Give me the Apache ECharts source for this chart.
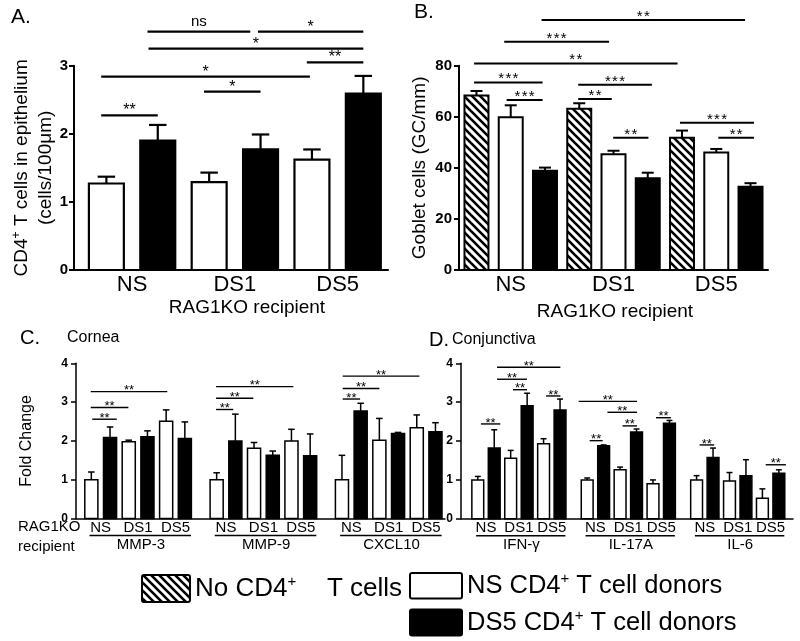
<!DOCTYPE html>
<html><head><meta charset="utf-8">
<script src="https://cdn.jsdelivr.net/npm/echarts@6/dist/echarts.min.js"></script>
<style>html,body{margin:0;padding:0;background:#fff}#c{width:800px;height:641px}</style>
</head><body><div id="c"></div>
<script>
// ================= DATA =================
const recipients = ['NS', 'DS1', 'DS5'];

// Panel A: CD4+ T cells in epithelium (cells/100um)
const aNSDonor     = [1.27, 1.29, 1.62];
const aNSDonorErr  = [0.10, 0.14, 0.15];
const aDS5Donor    = [1.90, 1.77, 2.59];
const aDS5DonorErr = [0.23, 0.22, 0.26];
const aYTicks = [0, 1, 2, 3];
// significance: [fromBar, toBar, y, label]  (bar index 0..5)
const aSig = [
  [-0.1, 1.0, 2.27, '**'], [-0.1, 3.96, 2.84, '*'], [1.9, 3.0, 2.62, '*'],
  [3.9, 5.0, 3.05, '**'], [0.82, 5.0, 3.25, '*'], [0.8, 2.8, 3.5, 'ns'], [2.95, 5.0, 3.5, '*']
];

// Panel B: Goblet cells (GC/mm)
const bNoCD4      = [68.3, 63.1, 51.8];
const bNoCD4Err   = [1.8, 2.2, 2.8];
const bNSDonor    = [59.8, 45.3, 46.0];
const bNSDonorErr = [4.7, 1.4, 1.4];
const bDS5Donor   = [38.9, 35.9, 32.6];
const bDS5DonorErr= [1.2, 2.2, 1.4];
const bYTicks = [0, 20, 40, 60, 80];
const bSig = [
  [1.9, 7.84, 97.9, '**'], [0.81, 3.87, 89.4, '***'], [-0.07, 5.87, 80.9, '**'],
  [-0.07, 1.93, 73.4, '***'], [0.88, 1.93, 66.6, '***'], [2.97, 5.12, 72.5, '***'],
  [2.97, 3.95, 67.0, '**'], [3.99, 5.02, 51.8, '**'], [5.94, 8.1, 57.7, '***'], [7.06, 8.1, 51.8, '**']
];

// Panel C: Cornea fold change  [gene][recipient]
const cGenes = ['MMP-3', 'MMP-9', 'CXCL10'];
const cNSDonor     = [[1.00, 1.98, 2.51], [1.00, 1.81, 2.00], [1.00, 2.02, 2.34]];
const cNSDonorErr  = [[0.20, 0.04, 0.29], [0.18, 0.15, 0.30], [0.63, 0.56, 0.33]];
const cDS5Donor    = [[2.09, 2.11, 2.06], [2.00, 1.63, 1.62], [2.77, 2.19, 2.24]];
const cDS5DonorErr = [[0.27, 0.15, 0.43], [0.69, 0.11, 0.56], [0.20, 0.03, 0.23]];
const cYTicks = [0, 1, 2, 3, 4];
// [gene, fromBar, toBar, y, label]
const cSig = [
  [0, -0.03, 4.06, 3.27, '**'], [0, -0.03, 1.98, 2.86, '**'], [0, 0.05, 1.36, 2.56, '**'],
  [1, -0.03, 4.1, 3.40, '**'], [1, -0.03, 1.96, 3.10, '**'], [1, -0.03, 0.89, 2.81, '**'],
  [2, 0.04, 4.14, 3.67, '**'], [2, 0.04, 2.0, 3.35, '**'], [2, 0.04, 0.97, 3.08, '**']
];

// Panel D: Conjunctiva fold change [gene][recipient]
const dGenes = ['IFN-γ', 'IL-17A', 'IL-6'];
const dNSDonor     = [[1.00, 1.56, 1.93], [1.00, 1.26, 0.90], [1.00, 0.97, 0.53]];
const dNSDonorErr  = [[0.09, 0.20, 0.13], [0.05, 0.07, 0.10], [0.11, 0.22, 0.24]];
const dDS5Donor    = [[1.82, 2.91, 2.80], [1.88, 2.23, 2.46], [1.58, 1.11, 1.17]];
const dDS5DonorErr = [[0.47, 0.32, 0.28], [0.02, 0.08, 0.07], [0.24, 0.41, 0.09]];
const dYTicks = [0, 1, 2, 3, 4];
const dSig = [
  [0, 1.17, 5.02, 3.90, '**'], [0, 1.17, 2.99, 3.59, '**'], [0, 2.14, 2.99, 3.32, '**'],
  [0, 0.19, 1.37, 2.44, '**'], [0, 4.15, 5.02, 3.16, '**'],
  [1, -0.52, 3.03, 3.02, '**'], [1, 1.23, 3.03, 2.74, '**'], [1, 2.15, 3.03, 2.39, '**'],
  [1, 0.15, 0.94, 2.01, '**'], [1, 4.18, 5.09, 2.60, '**'],
  [2, 0.18, 1.07, 1.90, '**'], [2, 4.2, 5.43, 1.39, '**']
];

// ================= LAYOUT / STYLE =================
const FONT = '"Liberation Sans", Arial, Helvetica, sans-serif';
const C_STEP = 6.7, D_STEP = 6.65;

function makeHatch(s, lw) {
  const c = document.createElement('canvas'); c.width = s; c.height = s;
  const ctx = c.getContext('2d');
  ctx.fillStyle = '#fff'; ctx.fillRect(0, 0, s, s);
  ctx.strokeStyle = '#000'; ctx.lineWidth = lw; ctx.lineCap = 'square';
  for (const k of [-s, 0, s]) { ctx.beginPath(); ctx.moveTo(k, 0); ctx.lineTo(k + s, s); ctx.stroke(); }
  return c;
}
const hatchCanvas = makeHatch(8, 2.6);
const hatchFill = { image: hatchCanvas, repeat: 'repeat' };

// build bar item lists
const aItems = [];
recipients.forEach((r, i) => {
  aItems.push({ x: 2 * i, v: aNSDonor[i], e: aNSDonorErr[i], k: 'ns' });
  aItems.push({ x: 2 * i + 1, v: aDS5Donor[i], e: aDS5DonorErr[i], k: 'ds5' });
});
const bItems = [];
recipients.forEach((r, i) => {
  bItems.push({ x: 3 * i, v: bNoCD4[i], e: bNoCD4Err[i], k: 'none' });
  bItems.push({ x: 3 * i + 1, v: bNSDonor[i], e: bNSDonorErr[i], k: 'ns' });
  bItems.push({ x: 3 * i + 2, v: bDS5Donor[i], e: bDS5DonorErr[i], k: 'ds5' });
});
function geneItems(genes, ns, nsE, ds, dsE, step) {
  const out = [];
  genes.forEach((g, gi) => recipients.forEach((r, ri) => {
    out.push({ x: gi * step + 2 * ri, v: ns[gi][ri], e: nsE[gi][ri], k: 'ns' });
    out.push({ x: gi * step + 2 * ri + 1, v: ds[gi][ri], e: dsE[gi][ri], k: 'ds5' });
  }));
  return out;
}
const cItems = geneItems(cGenes, cNSDonor, cNSDonorErr, cDS5Donor, cDS5DonorErr, C_STEP);
const dItems = geneItems(dGenes, dNSDonor, dNSDonorErr, dDS5Donor, dDS5DonorErr, D_STEP);

function barSeries(gi, items, barW, lw, capFrac) {
  return {
    type: 'custom', xAxisIndex: gi, yAxisIndex: gi, clip: false, silent: true, z: 3,
    data: items.map(d => [d.x, d.v]),
    renderItem: (params, api) => {
      const d = items[params.dataIndex];
      const tl = api.coord([d.x - barW / 2, d.v]);
      const br = api.coord([d.x + barW / 2, 0]);
      const top = api.coord([d.x, d.v]);
      const et = api.coord([d.x, d.v + d.e]);
      const cap = (br[0] - tl[0]) * capFrac / 2;
      const fill = d.k === 'ds5' ? '#000' : (d.k === 'none' ? hatchFill : '#fff');
      return { type: 'group', children: [
        { type: 'line', shape: { x1: top[0], y1: top[1], x2: et[0], y2: et[1] }, style: { stroke: '#000', lineWidth: lw } },
        { type: 'line', shape: { x1: et[0] - cap, y1: et[1], x2: et[0] + cap, y2: et[1] }, style: { stroke: '#000', lineWidth: lw } },
        { type: 'rect', shape: { x: tl[0], y: tl[1], width: br[0] - tl[0], height: br[1] - tl[1] },
          style: { fill: fill, stroke: '#000', lineWidth: lw } }
      ] };
    }
  };
}

function sfsOffset(gi) { return gi === 0 ? 8 : (gi === 1 ? 6.7 : 4); }
function sigSeries(gi, sig, lw, fs, sfs, starSpaced) {
  return {
    type: 'custom', xAxisIndex: gi, yAxisIndex: gi, clip: false, silent: true, z: 4,
    data: sig.map(s => [s[0], s[2]]),
    renderItem: (params, api) => {
      const s = sig[params.dataIndex];
      const p1 = api.coord([s[0], s[2]]), p2 = api.coord([s[1], s[2]]);
      const isStar = s[3].indexOf('*') >= 0;
      let txt = s[3];
      if (isStar && starSpaced) txt = txt.split('').join('\u200A');
      const size = isStar ? fs : sfs;
      const dy = isStar ? sfsOffset(gi) - size * 0.23 : 9.4;
      return { type: 'group', children: [
        { type: 'line', shape: { x1: p1[0], y1: p1[1], x2: p2[0], y2: p2[1] }, style: { stroke: '#000', lineWidth: lw } },
        { type: 'text', style: { text: txt, x: (p1[0] + p2[0]) / 2, y: p1[1] - dy, align: 'center', verticalAlign: 'middle',
          textAlign: 'center', textVerticalAlign: 'middle', font: size + 'px ' + FONT, fill: '#000' } }
      ] };
    }
  };
}

function sigGeneSeries(gi, sig, step) {
  return sigSeries(gi, sig.map(s => [s[0] * step + s[1], s[0] * step + s[2], s[3], s[4]]), 1.4, 13, 13, false);
}

// category labels under A / B
function catSeries(gi, centers, fs, dy) {
  return {
    type: 'custom', xAxisIndex: gi, yAxisIndex: gi, clip: false, silent: true,
    data: centers.map(x => [x, 0]),
    renderItem: (params, api) => {
      const p = api.coord([centers[params.dataIndex], 0]);
      return { type: 'text', style: { text: recipients[params.dataIndex], x: p[0], y: p[1] + dy,
        align: 'center', verticalAlign: 'middle', textAlign: 'center', textVerticalAlign: 'middle',
        font: fs + 'px ' + FONT, fill: '#000' } };
    }
  };
}
// gene group labels under C / D
function geneLabelSeries(gi, genes, step) {
  return {
    type: 'custom', xAxisIndex: gi, yAxisIndex: gi, clip: false, silent: true,
    data: genes.map((g, i) => [i * step, 0]),
    renderItem: (params, api) => {
      const o = params.dataIndex * step;
      const ch = [];
      recipients.forEach((r, ri) => {
        const p = api.coord([o + 2 * ri + 0.5, 0]);
        ch.push({ type: 'text', style: { text: r, x: p[0], y: p[1] + 9.5, align: 'center', verticalAlign: 'middle',
          textAlign: 'center', textVerticalAlign: 'middle', font: '15px ' + FONT, fill: '#000' } });
      });
      const u1 = api.coord([o - 0.1, 0]), u2 = api.coord([o + 5.33, 0]);
      ch.push({ type: 'line', shape: { x1: u1[0], y1: u1[1] + 17, x2: u2[0], y2: u2[1] + 17 }, style: { stroke: '#000', lineWidth: 1.5 } });
      const g = api.coord([o + 2.65, 0]);
      ch.push({ type: 'text', style: { text: genes[params.dataIndex], x: g[0], y: g[1] + 26.5, align: 'center', verticalAlign: 'middle',
        textAlign: 'center', textVerticalAlign: 'middle', font: '15px ' + FONT, fill: '#000' } });
      return { type: 'group', children: ch };
    }
  };
}

function xAx(gi, min, max, lw) {
  return { type: 'value', gridIndex: gi, min: min, max: max,
    axisLine: { show: true, onZero: false, lineStyle: { color: '#000', width: lw } },
    axisTick: { show: false }, axisLabel: { show: false }, splitLine: { show: false } };
}
function yAx(gi, ticks, lw, fs, margin, name, gap, nameStyle) {
  return { type: 'value', gridIndex: gi, min: ticks[0], max: ticks[ticks.length - 1], interval: ticks[1] - ticks[0],
    axisLine: { show: true, onZero: false, lineStyle: { color: '#000', width: lw } },
    axisTick: { show: true, length: 5, lineStyle: { color: '#000', width: lw } },
    axisLabel: { color: '#000', fontWeight: 'bold', fontSize: fs, margin: margin, fontFamily: FONT },
    splitLine: { show: false },
    name: name, nameLocation: 'middle', nameRotate: 90, nameGap: gap, nameTextStyle: nameStyle };
}

const supRich = (fs, sfs, lh) => ({
  t: { fontSize: fs, fontFamily: FONT, color: '#000', lineHeight: lh },
  s: { fontSize: sfs, fontFamily: FONT, color: '#000', verticalAlign: 'top', lineHeight: lh }
});

function gText(text, x, y, fs, align, rich) {
  const st = { text: text, x: x, y: y, font: fs + 'px ' + FONT, fill: '#000',
    align: align || 'left', verticalAlign: 'middle', textAlign: align || 'left', textVerticalAlign: 'middle' };
  if (rich) st.rich = rich;
  return { type: 'text', silent: true, style: st };
}

const option = {
  animation: false,
  textStyle: { fontFamily: FONT, color: '#000' },
  grid: [
    { left: 74, top: 65.7, width: 314, height: 204.3 },
    { left: 459, top: 65.7, width: 309, height: 204.3 },
    { left: 76, top: 363.3, width: 369, height: 155.3 },
    { left: 461, top: 363.3, width: 332, height: 155.5 }
  ],
  xAxis: [
    xAx(0, -0.63, 5.48, 2),
    xAx(1, -0.51, 8.51, 2),
    xAx(2, -0.82, 18.91, 1.5),
    xAx(3, -1.02, 19.16, 1.5)
  ],
  yAxis: [
    yAx(0, aYTicks, 2, 15, 6, '{t|CD4}{s|+}{t| T cells in epithelium}\n{t|(cells/100μm)}', 13,
      { rich: supRich(19, 12, 24), fontFamily: FONT }),
    yAx(1, bYTicks, 2, 15, 7, 'Goblet cells (GC/mm)', 28, { fontSize: 19, fontFamily: FONT, color: '#000', lineHeight: 22 }),
    yAx(2, cYTicks, 1.5, 12, 8, 'Fold Change', 40, { fontSize: 16, fontFamily: FONT, color: '#000', lineHeight: 18 }),
    yAx(3, dYTicks, 1.5, 12, 8, '', 0, {})
  ],
  series: [
    barSeries(0, aItems, 0.68, 2.2, 0.5),
    barSeries(1, bItems, 0.70, 2, 0.5),
    barSeries(2, cItems, 0.70, 1.5, 0.5),
    barSeries(3, dItems, 0.72, 1.5, 0.5),
    sigSeries(0, aSig, 2.2, 16, 15, false),
    sigSeries(1, bSig, 2, 15, 15, true),
    sigGeneSeries(2, cSig, C_STEP),
    sigGeneSeries(3, dSig, D_STEP),
    catSeries(0, [0.5, 2.5, 4.5], 22, 15),
    catSeries(1, [1, 4, 7], 22, 15),
    geneLabelSeries(2, cGenes, C_STEP),
    geneLabelSeries(3, dGenes, D_STEP)
  ],
  graphic: { elements: [
    gText('A.', 11, 17, 21),
    gText('B.', 414, 12, 21),
    gText('RAG1KO recipient', 247, 308, 19, 'center'),
    gText('RAG1KO recipient', 615, 312, 19, 'center'),
    gText('C.', 20, 338, 20),
    gText('Cornea', 67, 338, 16),
    gText('D.', 429, 340, 20),
    gText('Conjunctiva', 452, 340, 16),
    gText('RAG1KO', 18, 527, 15),
    gText('recipient', 18, 547, 15),
    { type: 'rect', silent: true, shape: { x: 142, y: 575, width: 48, height: 27, r: 2 }, style: { fill: hatchFill, stroke: '#000', lineWidth: 2 } },
    gText('{t|No CD4}{s|+}', 195, 588.5, 26, 'left', supRich(26, 15, 28)),
    gText('T cells', 402, 588.5, 26, 'right'),
    { type: 'rect', silent: true, shape: { x: 410, y: 573, width: 52, height: 25.5, r: 2 }, style: { fill: '#fff', stroke: '#000', lineWidth: 2 } },
    gText('{t|NS CD4}{s|+}{t| T cell donors}', 467, 585.5, 25.5, 'left', supRich(25.5, 15, 28)),
    { type: 'rect', silent: true, shape: { x: 410, y: 609.5, width: 52, height: 26, r: 2 }, style: { fill: '#000', stroke: '#000', lineWidth: 2 } },
    gText('{t|DS5 CD4}{s|+}{t| T cell donors}', 467, 622.5, 25.5, 'left', supRich(25.5, 15, 28))
  ] }
};

const chart = echarts.init(document.getElementById('c'), null, { renderer: 'canvas' });
chart.setOption(option);
</script>
</body></html>
